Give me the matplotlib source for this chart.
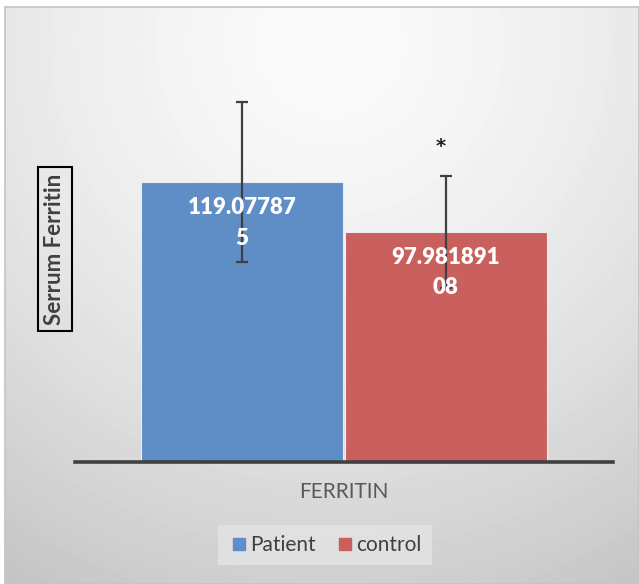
import matplotlib
matplotlib.use("Agg")
import matplotlib.pyplot as plt
import numpy as np
from matplotlib.lines import Line2D
from matplotlib.patches import Rectangle

groups = ["Patient", "control"]
means = [119.077875, 97.98189108]
errors = [34.0, 23.8]
colors = ["#5F8DC5", "#C9605E"]
category = "FERRITIN"
y_label = "Serrum Ferritin"
star_group = 1

plt.rcParams["font.family"] = ["Lato", "DejaVu Sans"]

W, H = 639, 584
fig = plt.figure(figsize=(W / 100, H / 100), dpi=100)
fig.patch.set_facecolor("white")

# radial gray background of the chart area
bg = fig.add_axes([5 / W, 0, (W - 5) / W, (H - 7) / H], zorder=0)
yy, xx = np.mgrid[0:577, 0:634]
d = np.hypot(xx - 325, yy - 35) / 626
shade = (250 - 54 * np.clip(d, 0, 1.2) ** 1.6) / 255
bg.imshow(shade, cmap="gray", vmin=0, vmax=1, aspect="auto", interpolation="bilinear")
bg.set_axis_off()
fig.add_artist(Rectangle((5 / W, 0), (W - 5) / W, (H - 7) / H, transform=fig.transFigure,
                         fill=False, edgecolor="#c4c4c4", lw=1.2, zorder=1))

ax = fig.add_axes([75 / W, 122 / H, 538 / W, 423 / H], zorder=2)
ax.patch.set_alpha(0)

x = np.arange(len(groups))
bars = ax.bar(x, means, width=0.99, color=colors, edgecolor="#e6edf5", linewidth=0.8, zorder=2)
ax.errorbar(x, means, yerr=errors, fmt="none", ecolor="#404040", elinewidth=1.6,
            capsize=4.5, capthick=1.6, zorder=3)

for xi, v in zip(x, means):
    s = str(v)
    lbl = s[:9] + ("\n" + s[9:] if len(s) > 9 else "")
    ax.annotate(lbl, (xi, v), xytext=(0, -11), textcoords="offset points",
                ha="center", va="top", color="white", fontsize=16,
                fontweight="heavy", linespacing=1.55, zorder=4)

ax.text(star_group - 0.025, means[star_group] + errors[star_group] + 12.5, "*",
        ha="center", va="center", fontsize=14, color="#202020", fontweight="bold",
        family="DejaVu Sans")

ax.set_xlim(-0.82, 1.82)
ax.set_ylim(0, 180)
ax.set_yticks([])
ax.set_xticks([])
for s in ["top", "right", "left"]:
    ax.spines[s].set_visible(False)
ax.spines["bottom"].set_color("#404040")
ax.spines["bottom"].set_linewidth(2.6)
ax.spines["bottom"].set_zorder(5)

fig.text(344 / W, 1 - 492 / H, category, ha="center", va="center",
         fontsize=15, color="#595959")

fig.text(55 / W, 1 - 249 / H, y_label, rotation=90, ha="center", va="center",
         fontsize=16, fontweight="bold", color="#404040",
         bbox=dict(boxstyle="square,pad=0.3", facecolor="none", edgecolor="black", lw=1.5))

handles = [Line2D([], [], marker="s", linestyle="none", markersize=8, color=c) for c in colors]
leg = fig.legend(handles, groups, loc="center", bbox_to_anchor=(325 / W, 1 - 545 / H),
                 ncol=2, fontsize=15, frameon=True, handletextpad=0.05, columnspacing=0.9,
                 handlelength=1.0, borderpad=0.5, fancybox=False)
leg.get_frame().set_facecolor("#e4e4e4")
leg.get_frame().set_edgecolor("none")
for t in leg.get_texts():
    t.set_color("#404040")

fig.savefig("out.png", dpi=100)
